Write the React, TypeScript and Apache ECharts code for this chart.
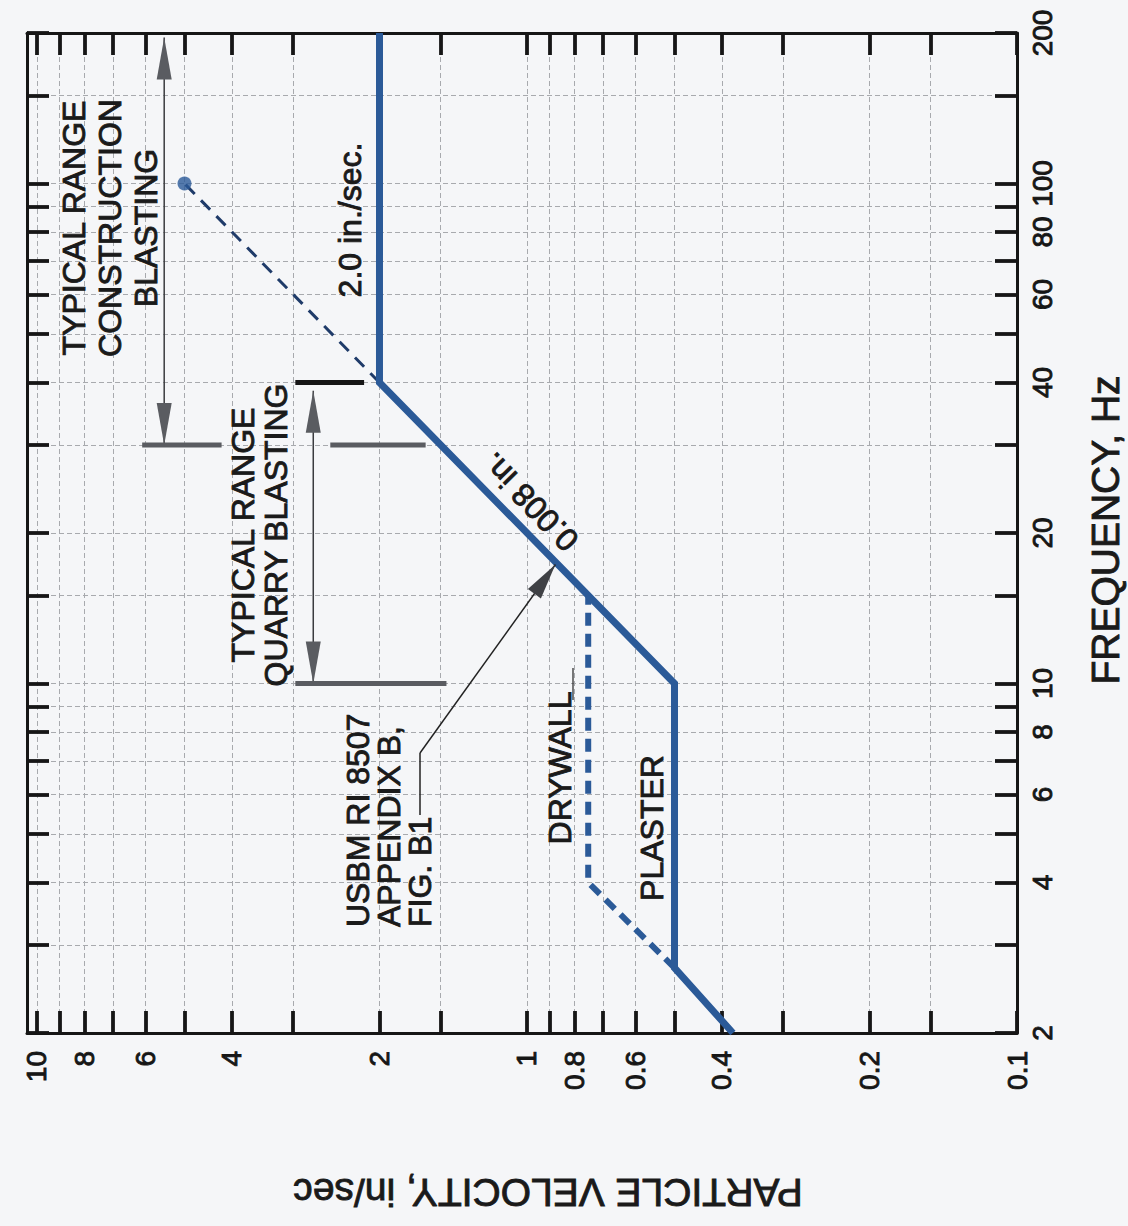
import React, { useEffect, useRef } from "react";
import * as echarts from "echarts";

// Axis ticks & labels
const velocityTicks = [0.1, 0.15, 0.2, 0.3, 0.4, 0.5, 0.6, 0.7, 0.8, 0.9, 1, 1.5, 2, 3, 4, 5, 6, 7, 8, 9, 10];
const velocityLabels = [0.1, 0.2, 0.4, 0.6, 0.8, 1, 2, 4, 6, 8, 10];
const frequencyTicks = [2, 3, 4, 5, 6, 7, 8, 9, 10, 15, 20, 30, 40, 50, 60, 70, 80, 90, 100, 150, 200];
const frequencyLabels = [2, 4, 6, 8, 10, 20, 40, 60, 80, 100, 200];

// USBM RI 8507 limit curves (particle velocity in/sec, frequency Hz)
const plasterVelocity = [0.38, 0.5, 0.5, 2.0, 2.0];
const plasterFrequency = [2, 2.7, 10, 40, 200];
const drywallVelocity = [0.5, 0.75, 0.75];
const drywallFrequency = [2.7, 4, 15];
const extensionVelocity = [2.0, 5.0];
const extensionFrequency = [40, 100];
const extensionEndVelocity = [5.0];
const extensionEndFrequency = [100];

// Annotation anchors (data space)
const constructionRange = [5.5, 196, 30]; // velocity, top freq, bottom freq
const constructionBar = [30, 6.1, 4.2]; // freq, velocity from, velocity to
const quarryRange = [2.73, 38.5, 10];
const quarryBarFrequency = [40, 30, 10];
const quarryBarFrom = [2.97, 2.52, 2.97];
const quarryBarTo = [2.15, 1.61, 1.46];
const pointerTip = [0.875, 17.3];

const BLUE = "#2b5a98";
const INK = "#161616";
const GREY = "#5a5c61";
const FONT = "'Liberation Sans', Arial, Helvetica, sans-serif";

export default function App() {
  const ref = useRef<HTMLDivElement>(null);

  useEffect(() => {
    const el = ref.current;
    if (!el) return;
    const chart = echarts.init(el, null, { renderer: "svg" });

    const fmt = (v: number) => String(Number(Number(v).toPrecision(3)));
    const gridLine = { show: true, lineStyle: { color: "#a8aaae", width: 1, type: [5, 3] } };
    const tick = (vals: number[]) => ({
      show: true,
      inside: true,
      length: 22,
      customValues: vals,
      lineStyle: { color: INK, width: 3.8 },
    });
    const axisLine = { show: true, lineStyle: { color: INK, width: 3 } };
    const xBase = { type: "log", logBase: 10, min: 0.1, max: 10.48, inverse: true, gridIndex: 0 };
    const yBase = { type: "log", logBase: 10, min: 2, max: 200, gridIndex: 0 };
    const zip = (a: number[], b: number[]) => a.map((v, i) => [v, b[i]]);
    const labelStyle = {
      rotate: 90,
      fontSize: 28,
      fontFamily: FONT,
      color: INK,
      textBorderColor: INK,
      textBorderWidth: 0.9,
      formatter: fmt,
    };

    chart.setOption({
      animation: false,
      backgroundColor: "#f5f6f8",
      grid: { left: 27, right: 111, top: 33, bottom: 193, containLabel: false, outerBoundsMode: "none" },
      xAxis: [
        {
          ...xBase,
          position: "bottom",
          axisLine,
          axisTick: tick(velocityTicks),
          axisLabel: { ...labelStyle, customValues: velocityLabels, margin: 18 },
          splitLine: gridLine,
        },
        {
          ...xBase,
          position: "top",
          axisLine,
          axisTick: tick(velocityTicks),
          axisLabel: { show: false },
          splitLine: { show: false },
        },
      ],
      yAxis: [
        {
          ...yBase,
          position: "right",
          axisLine,
          axisTick: tick(frequencyTicks),
          axisLabel: { ...labelStyle, customValues: frequencyLabels, margin: 11 },
          splitLine: gridLine,
        },
        {
          ...yBase,
          position: "left",
          axisLine,
          axisTick: tick(frequencyTicks),
          axisLabel: { show: false },
          splitLine: { show: false },
        },
      ],
      series: [
        {
          name: "Drywall",
          type: "line",
          xAxisIndex: 0,
          yAxisIndex: 0,
          data: zip(drywallVelocity, drywallFrequency),
          symbol: "none",
          lineStyle: { color: BLUE, width: 6, type: [13, 8] },
          z: 3,
        },
        {
          name: "Extension",
          type: "line",
          xAxisIndex: 0,
          yAxisIndex: 0,
          data: zip(extensionVelocity, extensionFrequency),
          symbol: "none",
          lineStyle: { color: "#1f3b69", width: 3, type: [13, 9] },
          z: 3,
        },
        {
          name: "Plaster",
          type: "line",
          xAxisIndex: 0,
          yAxisIndex: 0,
          data: zip(plasterVelocity, plasterFrequency),
          symbol: "none",
          lineStyle: { color: BLUE, width: 7, join: "miter" },
          z: 4,
        },
        {
          name: "End",
          type: "scatter",
          xAxisIndex: 0,
          yAxisIndex: 0,
          data: zip(extensionEndVelocity, extensionEndFrequency),
          symbolSize: 14,
          itemStyle: { color: BLUE },
          z: 5,
        },
      ],
    });

    const P = (v: number, f: number) =>
      chart.convertToPixel({ xAxisIndex: 0, yAxisIndex: 0 }, [v, f]) as number[];
    const g: any[] = [];
    const seg = (a: number[], b: number[], color: string, w: number) =>
      g.push({
        type: "line",
        silent: true,
        z: 10,
        shape: { x1: a[0], y1: a[1], x2: b[0], y2: b[1] },
        style: { stroke: color, lineWidth: w },
      });
    const head = (tip: number[], from: number[], len: number, half: number, color: string) => {
      const dx = tip[0] - from[0];
      const dy = tip[1] - from[1];
      const L = Math.hypot(dx, dy) || 1;
      const ux = dx / L;
      const uy = dy / L;
      const bx = tip[0] - ux * len;
      const by = tip[1] - uy * len;
      g.push({
        type: "polygon",
        silent: true,
        z: 11,
        shape: {
          points: [
            [tip[0], tip[1]],
            [bx - uy * half, by + ux * half],
            [bx + uy * half, by - ux * half],
          ],
        },
        style: { fill: color },
      });
    };
    const text = (t: string, x: number, y: number, rot: number, extra: any = {}) =>
      g.push({
        type: "text",
        silent: true,
        z: 12,
        x,
        y,
        rotation: rot,
        style: {
          text: t,
          fontSize: 32,
          fontFamily: FONT,
          fill: "#1a1a1a",
          stroke: "#1a1a1a",
          lineWidth: 0.9,
          textAlign: "center",
          align: "center",
          textVerticalAlign: "middle",
          verticalAlign: "middle",
          lineHeight: 36,
          ...extra,
        },
      });

    // Construction blasting range
    const cTop = P(constructionRange[0], constructionRange[1]);
    const cBot = P(constructionRange[0], constructionRange[2]);
    seg(cTop, cBot, "#3a3b3f", 1.5);
    head(cTop, cBot, 42, 7.5, GREY);
    head(cBot, cTop, 42, 7.5, GREY);
    seg(P(constructionBar[1], constructionBar[0]), P(constructionBar[2], constructionBar[0]), GREY, 5);

    // Quarry blasting range
    const qTop = P(quarryRange[0], quarryRange[1]);
    const qBot = P(quarryRange[0], quarryRange[2]);
    seg(qTop, qBot, "#3a3b3f", 1.5);
    head(qTop, qBot, 42, 7.5, GREY);
    head(qBot, qTop, 42, 7.5, GREY);
    quarryBarFrequency.forEach((f, i) =>
      seg(P(quarryBarFrom[i], f), P(quarryBarTo[i], f), i === 0 ? INK : GREY, 5)
    );

    // USBM pointer
    const tip = P(pointerTip[0], pointerTip[1]);
    const elbow = [420, 753];
    seg([420, 815], elbow, "#222", 1.5);
    seg(elbow, tip, "#222", 1.5);
    head(tip, elbow, 36, 8, "#3f4145");

    // Drywall leader
    seg([573, 668], [573, 700], "#222", 1.2);

    const R = Math.PI / 2;
    text("TYPICAL RANGE\nCONSTRUCTION\nBLASTING", 110, 228, R);
    text("2.0 in./sec.", 350, 220, R);
    text("TYPICAL RANGE\nQUARRY BLASTING", 259, 535, R, { lineHeight: 33 });
    text("0.008 in.", 530, 502, (134.3 * Math.PI) / 180);
    text("USBM RI 8507\nAPPENDIX B,\nFIG. B1", 389, 927, R, {
      textAlign: "left",
      align: "left",
      lineHeight: 31,
    });
    text("DRYWALL", 560, 768, R);
    text("PLASTER", 652, 828, R);
    text("FREQUENCY, Hz", 1105, 530, R, { fontSize: 39 });
    text("PARTICLE VELOCITY, in/sec", 548, 1192, Math.PI, { fontSize: 39 });

    chart.setOption({ graphic: { elements: g } });

    return () => chart.dispose();
  }, []);

  return (
    <div
      ref={ref}
      style={{ position: "absolute", left: 0, top: 0, width: 1128, height: 1226 }}
    />
  );
}
